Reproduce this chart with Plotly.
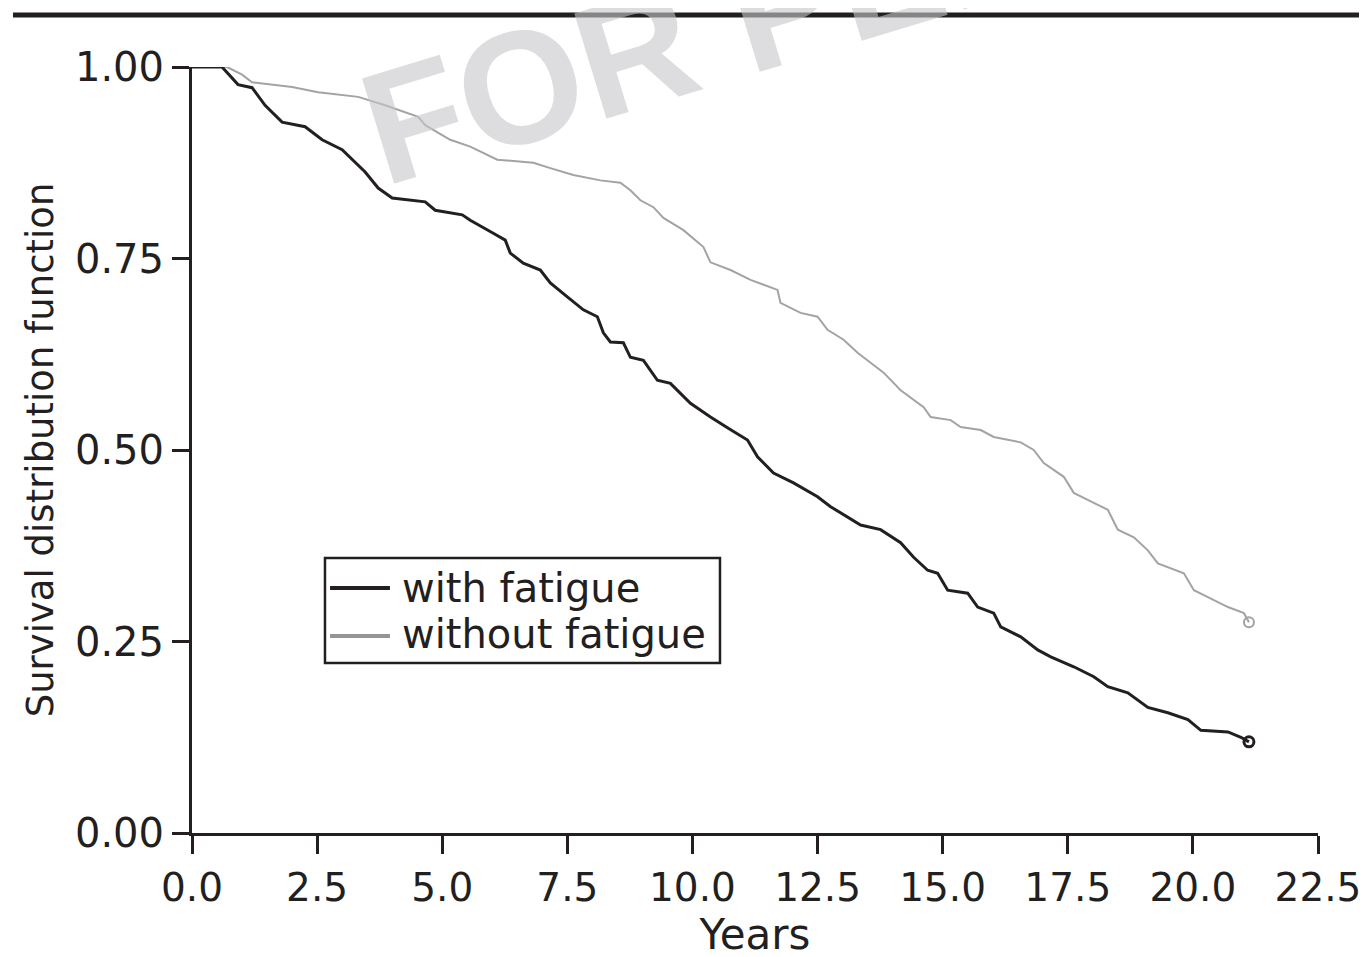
import plotly.graph_objects as go

# with fatigue (years, survival)
t_with = [0, 0.60, 0.92, 1.20, 1.46, 1.80, 2.26, 2.60, 3.00, 3.46, 3.72, 4.00, 4.66, 4.86,
          5.40, 5.56, 6.02, 6.26, 6.36, 6.62, 6.96, 7.16, 7.50, 7.82, 8.10, 8.22, 8.36, 8.62,
          8.76, 9.02, 9.30, 9.56, 9.96, 10.36, 10.70, 11.10, 11.30, 11.62, 12.02, 12.50, 12.76,
          13.36, 13.76, 14.16, 14.42, 14.70, 14.90, 15.10, 15.50, 15.70, 16.02, 16.16, 16.56,
          16.90, 17.16, 17.62, 18.02, 18.30, 18.70, 19.10, 19.50, 19.90, 20.16, 20.70, 20.96, 21.12]
s_with = [1.000, 1.000, 0.977, 0.973, 0.950, 0.928, 0.922, 0.905, 0.892, 0.863, 0.842, 0.829, 0.824, 0.813,
          0.807, 0.800, 0.783, 0.774, 0.757, 0.744, 0.735, 0.718, 0.700, 0.683, 0.674, 0.653, 0.641, 0.640,
          0.621, 0.617, 0.591, 0.587, 0.561, 0.543, 0.529, 0.513, 0.491, 0.470, 0.457, 0.439, 0.426,
          0.402, 0.396, 0.379, 0.360, 0.343, 0.339, 0.317, 0.313, 0.295, 0.287, 0.269, 0.256,
          0.239, 0.230, 0.217, 0.204, 0.191, 0.183, 0.164, 0.157, 0.148, 0.134, 0.132, 0.125, 0.119]

# without fatigue (years, survival)
t_without = [0, 0.70, 1.00, 1.20, 2.00, 2.52, 3.32, 3.86, 4.52, 4.66, 5.16, 5.56, 6.10, 6.82, 7.16,
             7.62, 8.16, 8.56, 8.76, 8.96, 9.22, 9.42, 9.82, 10.22, 10.36, 10.76, 11.16, 11.70, 11.76,
             12.16, 12.50, 12.70, 13.02, 13.30, 13.56, 13.82, 14.16, 14.62, 14.76, 15.16, 15.36, 15.76,
             16.02, 16.56, 16.82, 17.02, 17.42, 17.62, 18.02, 18.30, 18.50, 18.82, 19.10, 19.30, 19.82,
             20.02, 20.30, 20.70, 21.02, 21.12]
s_without = [1.000, 1.000, 0.990, 0.980, 0.974, 0.967, 0.961, 0.950, 0.935, 0.924, 0.905, 0.896, 0.879, 0.875, 0.868,
             0.859, 0.852, 0.849, 0.839, 0.826, 0.817, 0.803, 0.787, 0.765, 0.745, 0.735, 0.722, 0.709, 0.692,
             0.679, 0.674, 0.657, 0.644, 0.627, 0.614, 0.601, 0.578, 0.556, 0.543, 0.539, 0.530, 0.526,
             0.517, 0.510, 0.500, 0.483, 0.465, 0.444, 0.431, 0.422, 0.396, 0.386, 0.369, 0.352, 0.339,
             0.317, 0.308, 0.295, 0.287, 0.275]

series_names = ["with fatigue", "without fatigue"]
x_ticks = [0, 2.5, 5, 7.5, 10, 12.5, 15, 17.5, 20, 22.5]
y_ticks = [0, 0.25, 0.5, 0.75, 1.0]

INK = "#231f20"
GRAY = "#a3a3a5"
LEG_GRAY = "#959597"
FONT = "DejaVu Sans, Verdana, sans-serif"
WM_FONT = "Liberation Sans, Arial, Helvetica, sans-serif"

fig = go.Figure()
fig.add_trace(go.Scatter(x=t_without, y=s_without, mode="lines", name=series_names[1],
                         line=dict(color=GRAY, width=2), showlegend=False, hoverinfo="skip"))
fig.add_trace(go.Scatter(x=t_with, y=s_with, mode="lines", name=series_names[0],
                         line=dict(color=INK, width=3), showlegend=False, hoverinfo="skip"))
# censor markers at the end of each curve
fig.add_trace(go.Scatter(x=t_without[-1:], y=s_without[-1:], mode="markers",
                         marker=dict(symbol="circle-open", size=10, color=GRAY, line=dict(width=2)),
                         showlegend=False, hoverinfo="skip"))
fig.add_trace(go.Scatter(x=t_with[-1:], y=s_with[-1:], mode="markers",
                         marker=dict(symbol="circle-open", size=10, color=INK, line=dict(width=3)),
                         showlegend=False, hoverinfo="skip"))

fig.update_layout(
    width=1367, height=957,
    margin=dict(l=184, r=57, t=59, b=132),
    paper_bgcolor="white", plot_bgcolor="white",
    font=dict(family=FONT, size=40, color=INK),
    showlegend=False,
    xaxis=dict(range=[0, 22.5], tickvals=x_ticks, ticktext=[f"{v:.1f}" for v in x_ticks],
               showgrid=False, zeroline=False, showline=True, linecolor=INK, linewidth=3,
               ticks="outside", ticklen=18, tickwidth=3, tickcolor=INK,
               tickfont=dict(size=39),
               title=dict(text="Years", standoff=10, font=dict(size=42))),
    yaxis=dict(range=[0, 1.0], tickvals=y_ticks, ticktext=[f"{v:.2f}" for v in y_ticks],
               showgrid=False, zeroline=False, showline=True, linecolor=INK, linewidth=3,
               ticks="outside", ticklen=17, tickwidth=3, tickcolor=INK,
               tickfont=dict(size=40),
               title=dict(text="Survival distribution function", standoff=10, font=dict(size=37))),
)

# thick rule across the top
fig.add_shape(type="line", xref="paper", yref="paper", x0=-0.159, x1=1.06, y0=1.068, y1=1.068,
              line=dict(color=INK, width=5))

# legend box (drawn to match the original's long sample lines)
fig.add_shape(type="rect", xref="paper", yref="paper", x0=0.1181, x1=0.4689, y0=0.2219, y1=0.359,
              line=dict(color=INK, width=2.5), fillcolor="rgba(0,0,0,0)")
fig.add_shape(type="line", xref="paper", yref="paper", x0=0.1226, x1=0.1758, y0=0.3198, y1=0.3198,
              line=dict(color=INK, width=4))
fig.add_shape(type="line", xref="paper", yref="paper", x0=0.1226, x1=0.1758, y0=0.2572, y1=0.2572,
              line=dict(color=LEG_GRAY, width=4))
fig.add_annotation(text=series_names[0], xref="paper", yref="paper", x=0.1847, y=0.3198,
                   xanchor="left", yanchor="middle", showarrow=False,
                   font=dict(family=FONT, size=40, color=INK))
fig.add_annotation(text=series_names[1], xref="paper", yref="paper", x=0.1847, y=0.2598,
                   xanchor="left", yanchor="middle", showarrow=False,
                   font=dict(family=FONT, size=40, color=INK))

# watermark
fig.add_annotation(text="<b>FOR PEER REVIEW</b>", xref="paper", yref="paper",
                   x=0.790, y=1.198, xanchor="center", yanchor="middle",
                   textangle=-17, showarrow=False, opacity=0.6,
                   font=dict(family=WM_FONT, size=160, color="#c8c8cc"))

fig.write_html("out.html")
